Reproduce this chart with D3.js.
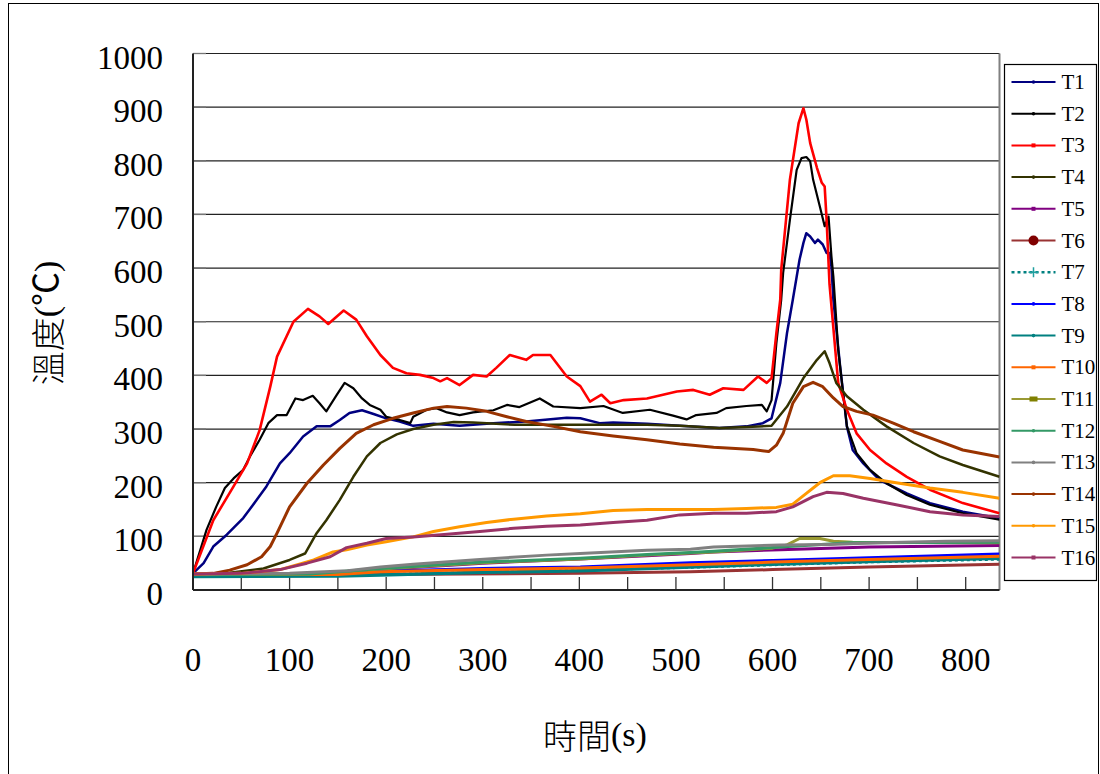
<!DOCTYPE html>
<html>
<head>
<meta charset="utf-8">
<script src="https://cdn.jsdelivr.net/npm/d3@7"></script>
<style>
  body { margin: 0; background: #fff; }
  text { font-family: "Liberation Serif", "Noto Sans CJK TC", serif; fill: #000; }
  .cjk { font-family: "Noto Sans CJK TC", sans-serif; font-weight: 300; }
</style>
</head>
<body>
<div id="chart"></div>
<script>
// Temperature readings [time (s), temperature (°C)]
const T1 = [[0,31],[11,50],[21,81],[35,103],[52,134],[66,168],[76,193],[90,236],[100,255],[114,286],[128,305],[142,305],[152,317],[162,330],[175,335],[187,328],[200,320],[214,314],[228,306],[249,310],[276,306],[311,311],[345,314],[387,321],[401,320],[421,311],[435,312],[470,310],[504,306],[545,302],[573,305],[590,311],[599,320],[608,386],[615,479],[621,541],[625,584],[628,616],[632,647],[635,665],[639,659],[644,647],[647,653],[652,644],[656,628],[659,628],[661,603],[663,541],[670,417],[677,305],[683,261],[694,236],[711,205],[739,180],[763,162],[797,146],[835,134]];
const T2 = [[0,31],[14,112],[24,155],[33,190],[42,208],[52,224],[59,249],[69,280],[78,311],[87,326],[97,326],[106,357],[114,354],[124,362],[131,348],[138,333],[149,364],[157,386],[166,376],[175,357],[183,345],[194,336],[200,323],[214,317],[225,311],[228,323],[242,336],[252,339],[263,331],[276,326],[290,331],[311,335],[325,345],[338,341],[359,357],[373,342],[401,339],[425,343],[445,330],[473,336],[497,325],[511,318],[521,326],[542,330],[552,339],[573,343],[589,345],[594,333],[599,354],[604,460],[609,541],[611,591],[618,690],[625,783],[630,805],[635,807],[639,799],[642,765],[649,715],[654,678],[658,696],[661,622],[663,584],[668,448],[677,305],[687,255],[701,224],[718,199],[739,177],[763,159],[797,143],[835,131]];
const T3 = [[0,31],[21,130],[42,193],[56,236],[69,298],[80,379],[87,435],[104,500],[119,524],[131,510],[140,496],[156,521],[169,504],[180,473],[194,438],[207,414],[221,404],[235,401],[249,395],[256,389],[263,395],[276,382],[290,401],[304,398],[314,414],[328,438],[345,429],[352,438],[370,438],[387,398],[401,380],[411,351],[423,364],[432,348],[446,354],[470,357],[501,370],[518,373],[535,364],[549,376],[570,373],[585,398],[594,386],[599,395],[604,479],[608,541],[609,597],[618,765],[627,870],[632,898],[635,877],[639,833],[646,787],[651,759],[654,752],[656,690],[659,570],[668,386],[677,336],[687,292],[701,261],[718,236],[739,211],[763,187],[797,162],[835,143]];
const T4 = [[0,30],[38,32],[73,40],[100,56],[116,68],[128,106],[138,130],[152,168],[166,211],[180,249],[194,274],[211,290],[228,300],[249,308],[270,313],[290,312],[333,308],[421,308],[470,308],[504,306],[545,302],[573,304],[599,306],[615,342],[632,395],[646,429],[654,445],[659,423],[666,386],[677,361],[694,336],[718,305],[746,274],[773,249],[797,233],[835,211]];
const T5 = [[0,29],[150,30],[194,38],[300,50],[401,58],[470,64],[515,68],[539,71],[608,75],[700,80],[835,83]];
const T6 = [[0,28],[194,29],[401,31],[515,34],[600,38],[700,43],[835,48]];
const T7 = [[0,26],[194,29],[401,37],[515,42],[700,52],[835,57]];
const T8 = [[0,28],[150,29],[194,35],[300,40],[401,43],[515,51],[600,55],[700,60],[835,67]];
const T9 = [[0,25],[150,26],[194,28],[300,33],[401,36],[515,43],[600,48],[700,53],[835,59]];
const T10 = [[0,29],[150,29],[194,34],[300,38],[401,41],[515,47],[600,52],[700,57],[835,63]];
const T11 = [[0,29],[120,30],[194,39],[300,51],[401,58],[470,65],[515,69],[539,71],[600,78],[615,84],[628,96],[649,96],[663,91],[683,89],[835,88]];
const T12 = [[0,29],[120,30],[194,40],[300,52],[401,59],[470,66],[515,70],[539,72],[608,80],[680,88],[835,89]];
const T13 = [[0,30],[100,31],[160,36],[194,43],[228,48],[297,57],[366,65],[401,68],[470,74],[515,76],[539,80],[608,84],[659,85],[711,88],[780,91],[835,92]];
const T14 = [[0,30],[21,31],[38,37],[56,47],[71,62],[80,81],[87,106],[100,155],[118,199],[135,233],[152,264],[169,292],[187,308],[207,320],[228,330],[249,339],[263,342],[283,339],[304,333],[325,323],[345,314],[373,305],[401,295],[435,287],[470,280],[504,272],[539,266],[580,262],[596,258],[604,270],[611,292],[621,348],[632,379],[642,387],[652,379],[663,358],[673,342],[687,333],[704,326],[725,311],[746,295],[773,277],[797,261],[835,248]];
const T15 = [[0,30],[50,31],[90,38],[110,48],[125,56],[145,71],[159,75],[180,84],[200,90],[228,99],[249,109],[276,118],[304,126],[332,132],[366,138],[401,142],[435,148],[470,150],[539,150],[573,152],[604,154],[621,160],[635,180],[649,200],[663,213],[680,213],[701,208],[728,200],[763,190],[797,182],[835,171]];
const T16 = [[0,30],[50,31],[90,38],[118,50],[142,62],[159,79],[180,87],[200,96],[228,99],[263,104],[297,109],[332,115],[366,119],[401,121],[435,126],[470,130],[504,140],[539,143],[573,143],[604,146],[621,155],[642,174],[656,182],[673,180],[694,171],[728,159],[763,146],[797,140],[835,137]];

const seriesNames = ["T1","T2","T3","T4","T5","T6","T7","T8","T9","T10","T11","T12","T13","T14","T15","T16"];
const seriesData = [T1,T2,T3,T4,T5,T6,T7,T8,T9,T10,T11,T12,T13,T14,T15,T16];
const xTicks = [0,100,200,300,400,500,600,700,800];
const yTicks = [0,100,200,300,400,500,600,700,800,900,1000];

// line styles per series
const styles = [
    { color: "#000080", width: 2.5, marker: "dot" },
    { color: "#000000", width: 2.2, marker: "dot" },
    { color: "#FF0000", width: 2.6, marker: "square" },
    { color: "#333300", width: 2.5, marker: "dot" },
    { color: "#800080", width: 3, marker: "square" },
    { color: "#993333", width: 3, marker: "circle", markerColor: "#800000" },
    { color: "#008080", width: 2.5, marker: "plus", dash: "3,3" },
    { color: "#0000FF", width: 3, marker: "dot" },
    { color: "#008080", width: 3.5, marker: "dot" },
    { color: "#FF6600", width: 3, marker: "square" },
    { color: "#999933", width: 3, marker: "rect" },
    { color: "#339966", width: 3, marker: "dot" },
    { color: "#808080", width: 3, marker: "dot" },
    { color: "#993300", width: 3, marker: "dot" },
    { color: "#FF9900", width: 3, marker: "dot" },
    { color: "#993366", width: 3, marker: "square" }
];

const width = 1100;
const height = 774;
const plot = { left: 193, right: 999.5, top: 53.5, bottom: 590 };

const svg = d3.select("#chart").append("svg")
    .attr("width", width)
    .attr("height", height);

// outer frame
svg.append("rect")
    .attr("x", 8.5).attr("y", 3.5)
    .attr("width", 1090).attr("height", 820)
    .attr("fill", "none").attr("stroke", "#000").attr("stroke-width", 1);

const x = d3.scaleLinear().domain([0, 835]).range([plot.left, plot.right]);
const y = d3.scaleLinear().domain([0, 1000]).range([plot.bottom, plot.top]);

// gridlines
svg.append("g")
    .selectAll("line")
    .data(yTicks.filter(d => d > 0))
    .join("line")
    .attr("x1", plot.left).attr("x2", plot.right)
    .attr("y1", d => y(d)).attr("y2", d => y(d))
    .attr("stroke", "#222").attr("stroke-width", 1.2);

// right frame of the plot
svg.append("line")
    .attr("x1", plot.right).attr("x2", plot.right)
    .attr("y1", plot.top).attr("y2", plot.bottom)
    .attr("stroke", "#808080").attr("stroke-width", 2);

// inside tick marks
svg.append("g")
    .selectAll("line")
    .data(d3.range(50, 835, 50))
    .join("line")
    .attr("x1", d => x(d)).attr("x2", d => x(d))
    .attr("y1", plot.bottom).attr("y2", plot.bottom - 13)
    .attr("stroke", "#333").attr("stroke-width", 1.3);

svg.append("g")
    .selectAll("line")
    .data(yTicks.filter(d => d > 0))
    .join("line")
    .attr("x1", plot.left).attr("x2", plot.left + 13)
    .attr("y1", d => y(d)).attr("y2", d => y(d))
    .attr("stroke", "#777").attr("stroke-width", 1.3);

// clip for data lines
svg.append("clipPath").attr("id", "plot-clip")
    .append("rect")
    .attr("x", plot.left).attr("y", plot.top)
    .attr("width", plot.right - plot.left).attr("height", plot.bottom - plot.top);

const line = d3.line()
    .x(d => x(d[0]))
    .y(d => y(d[1]));

const lines = svg.append("g").attr("clip-path", "url(#plot-clip)");

seriesData.forEach((data, i) => {
    const s = styles[i];
    lines.append("path")
        .datum(data)
        .attr("d", line)
        .attr("fill", "none")
        .attr("stroke", s.color)
        .attr("stroke-width", s.width)
        .attr("stroke-linejoin", "round")
        .attr("stroke-dasharray", s.dash || null);
});

// axes lines
svg.append("line")
    .attr("x1", plot.left).attr("x2", plot.left)
    .attr("y1", plot.top).attr("y2", plot.bottom)
    .attr("stroke", "#222").attr("stroke-width", 2);

svg.append("line")
    .attr("x1", plot.left).attr("x2", plot.right)
    .attr("y1", plot.bottom).attr("y2", plot.bottom)
    .attr("stroke", "#222").attr("stroke-width", 2);

// tick labels
svg.append("g")
    .selectAll("text")
    .data(yTicks)
    .join("text")
    .attr("x", 163)
    .attr("y", d => y(d) + 4)
    .attr("text-anchor", "end")
    .attr("dominant-baseline", "central")
    .style("font-size", "33px")
    .text(d => d);

svg.append("g")
    .selectAll("text")
    .data(xTicks)
    .join("text")
    .attr("x", d => x(d))
    .attr("y", 660)
    .attr("text-anchor", "middle")
    .attr("dominant-baseline", "central")
    .style("font-size", "33px")
    .text(d => d);

// axis titles
const yTitle = svg.append("text")
    .attr("transform", "translate(46, 323) rotate(-90)")
    .attr("text-anchor", "middle")
    .attr("dominant-baseline", "central")
    .style("font-size", "34px");
yTitle.append("tspan").attr("class", "cjk").text("溫度");
yTitle.append("tspan").text("(℃)");

const xTitle = svg.append("text")
    .attr("x", 595)
    .attr("y", 734)
    .attr("text-anchor", "middle")
    .attr("dominant-baseline", "central")
    .style("font-size", "34px");
xTitle.append("tspan").attr("class", "cjk").text("時間");
xTitle.append("tspan").text("(s)");

// legend
const legend = svg.append("g").attr("transform", "translate(1004.5, 64.5)");
legend.append("rect")
    .attr("width", 92).attr("height", 516)
    .attr("fill", "#fff").attr("stroke", "#000").attr("stroke-width", 1.2);

seriesNames.forEach((name, i) => {
    const s = styles[i];
    const cy = 17.5 + i * 31.7;
    const g = legend.append("g").attr("transform", `translate(0, ${cy})`);
    g.append("line")
        .attr("x1", 7).attr("x2", 51)
        .attr("y1", 0).attr("y2", 0)
        .attr("stroke", s.color)
        .attr("stroke-width", s.dash ? 2.5 : 2)
        .attr("stroke-dasharray", s.dash || null);
    const mc = s.markerColor || s.color;
    if (s.marker === "circle") {
        g.append("circle").attr("cx", 29).attr("cy", 0).attr("r", 5).attr("fill", mc);
    } else if (s.marker === "plus") {
        g.append("path").attr("d", "M24,0H34M29,-5V5").attr("stroke", "#20a0a0").attr("stroke-width", 1.5);
    } else if (s.marker === "rect") {
        g.append("rect").attr("x", 25).attr("y", -2.5).attr("width", 8).attr("height", 5).attr("fill", "#808000");
    } else if (s.marker === "square") {
        g.append("rect").attr("x", 27).attr("y", -2).attr("width", 4).attr("height", 4).attr("fill", mc);
    } else {
        g.append("circle").attr("cx", 29).attr("cy", 0).attr("r", 1.8).attr("fill", mc);
    }
    g.append("text")
        .attr("x", 57)
        .attr("y", 0)
        .attr("dominant-baseline", "central")
        .style("font-size", "21px")
        .text(name);
});
</script>
</body>
</html>
